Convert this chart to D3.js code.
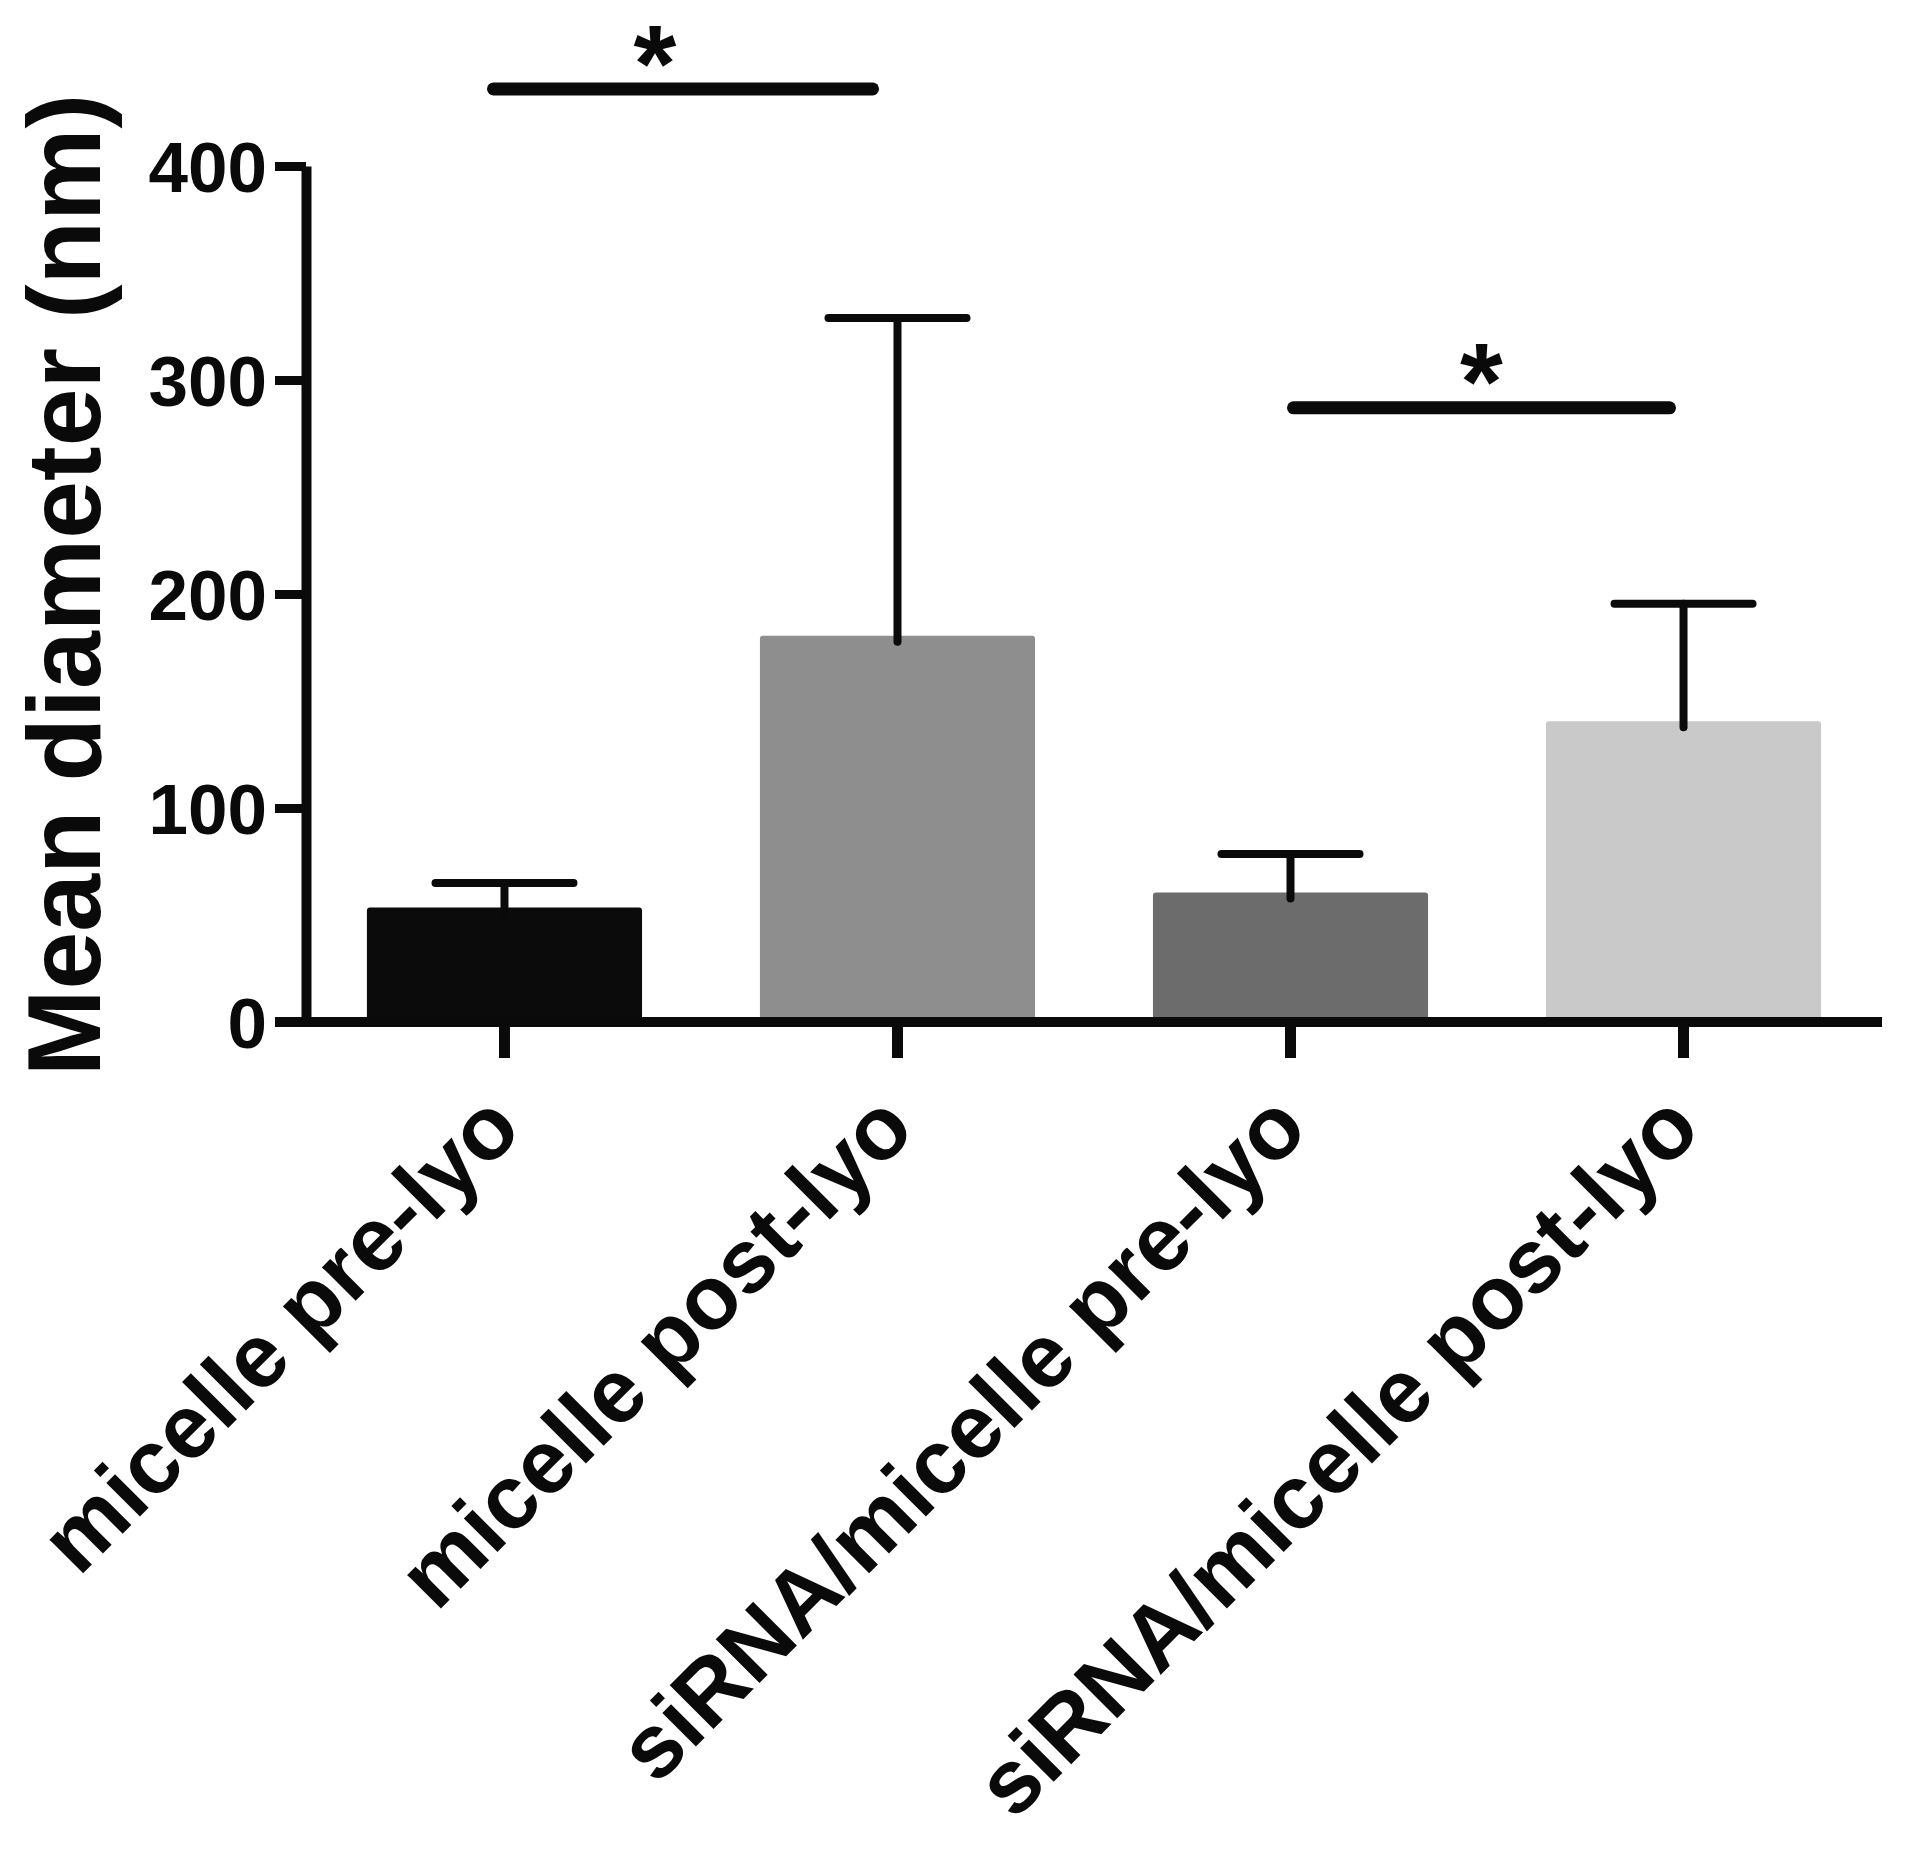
<!DOCTYPE html>
<html>
<head>
<meta charset="utf-8">
<script src="https://d3js.org/d3.v7.min.js"></script>
<style>
  html, body { margin: 0; padding: 0; background: #ffffff; }
  svg { display: block; font-family: "Liberation Sans", Arial, Helvetica, sans-serif; font-weight: bold; }
</style>
</head>
<body>
<svg id="chart" width="1920" height="1854"></svg>
<script>
// ---- Data ----
const categories = ["micelle pre-lyo", "micelle post-lyo", "siRNA/micelle pre-lyo", "siRNA/micelle post-lyo"];
const meanValues = [53.5, 180.5, 60.5, 140.5];
const errorValues = [11.5, 148.5, 18.0, 55.0];
const barColors = ["#0b0b0b", "#8e8e8e", "#6c6c6c", "#c9c9c9"];
const yTicks = [0, 100, 200, 300, 400];
const yTitle = "Mean diameter (nm)";
const sigFrom = [0, 2];
const sigTo = [1, 3];
const sigLevel = [436, 287];
const sigLabel = ["*", "*"];

// ---- Layout ----
const svg = d3.select("#chart");
const axisX = 306, axisY = 1022, topY = 166;

const x = d3.scaleBand()
  .domain(categories)
  .range([axisX, 1882])
  .paddingInner(0.30)
  .paddingOuter(0.155);

const y = d3.scaleLinear().domain([0, 400]).range([axisY, topY]);

// Bars
svg.append("g").selectAll("rect")
  .data(categories)
  .join("rect")
  .attr("x", d => x(d))
  .attr("y", (d, i) => y(meanValues[i]))
  .attr("width", x.bandwidth())
  .attr("height", (d, i) => y(0) - y(meanValues[i]))
  .attr("rx", 3)
  .attr("fill", (d, i) => barColors[i]);

// Error bars (upper)
const capW = 138;
const eg = svg.append("g").attr("stroke", "#0a0a0a").attr("stroke-width", 8).attr("stroke-linecap", "round");
categories.forEach((c, i) => {
  const cx = x(c) + x.bandwidth() / 2;
  eg.append("line").attr("x1", cx).attr("x2", cx)
    .attr("y1", y(meanValues[i]) + 6).attr("y2", y(meanValues[i] + errorValues[i]));
  eg.append("line").attr("x1", cx - capW / 2).attr("x2", cx + capW / 2)
    .attr("y1", y(meanValues[i] + errorValues[i])).attr("y2", y(meanValues[i] + errorValues[i]));
});

// Y axis
const yAxis = d3.axisLeft(y).tickValues(yTicks).tickSize(31).tickSizeOuter(0).tickPadding(8);
const gy = svg.append("g").attr("transform", `translate(${axisX},0)`).call(yAxis);
gy.select(".domain").attr("stroke", "#0a0a0a").attr("stroke-width", 10);
gy.selectAll(".tick line").attr("stroke", "#0a0a0a").attr("stroke-width", 9);
gy.selectAll(".tick text")
  .attr("fill", "#0a0a0a")
  .style("font-size", "71px")
  .style("font-weight", "bold")
  .style("font-family", "'Liberation Sans', Arial, sans-serif")
  .attr("dy", "0.36em");

// X axis
const xAxis = d3.axisBottom(x).tickSize(36).tickSizeOuter(0).tickFormat("");
const gx = svg.append("g").attr("transform", `translate(0,${axisY})`).call(xAxis);
gx.select(".domain").attr("stroke", "#0a0a0a").attr("stroke-width", 10).attr("d", `M${axisX - 31},0H1882`);
gx.selectAll(".tick line").attr("stroke", "#0a0a0a").attr("stroke-width", 11);

// X labels rotated
svg.append("g").selectAll("text")
  .data(categories)
  .join("text")
  .attr("transform", d => `translate(${x(d) + x.bandwidth() / 2 + 20},${axisY + 110}) rotate(-45)`)
  .attr("text-anchor", "end")
  .attr("fill", "#0a0a0a")
  .style("font-size", "90px")
  .style("font-weight", "bold")
  .text(d => d);

// Y title
svg.append("text")
  .attr("transform", `translate(100,585) rotate(-90)`)
  .attr("text-anchor", "middle")
  .attr("fill", "#0a0a0a")
  .style("font-size", "104px")
  .style("font-weight", "bold")
  .text(yTitle);

// Significance bars
const sigStartOff = [-11, 3];
const sigEndOff = [-25, -14];
const starOff = [-28, 0];
const starSize = 110;
sigFrom.forEach((a, k) => {
  const x1 = x(categories[a]) + x.bandwidth() / 2 + sigStartOff[k];
  const x2 = x(categories[sigTo[k]]) + x.bandwidth() / 2 + sigEndOff[k];
  const ly = y(sigLevel[k]);
  svg.append("line")
    .attr("x1", x1).attr("x2", x2).attr("y1", ly).attr("y2", ly)
    .attr("stroke", "#0a0a0a").attr("stroke-width", 13).attr("stroke-linecap", "round");
  const starCenter = Math.max(ly - 52, 38);
  svg.append("text")
    .attr("x", (x1 + x2) / 2 + starOff[k]).attr("y", starCenter + 0.57 * starSize)
    .attr("text-anchor", "middle")
    .attr("fill", "#0a0a0a")
    .style("font-size", starSize + "px")
    .style("font-weight", "bold")
    .text(sigLabel[k]);
});
</script>
</body>
</html>
